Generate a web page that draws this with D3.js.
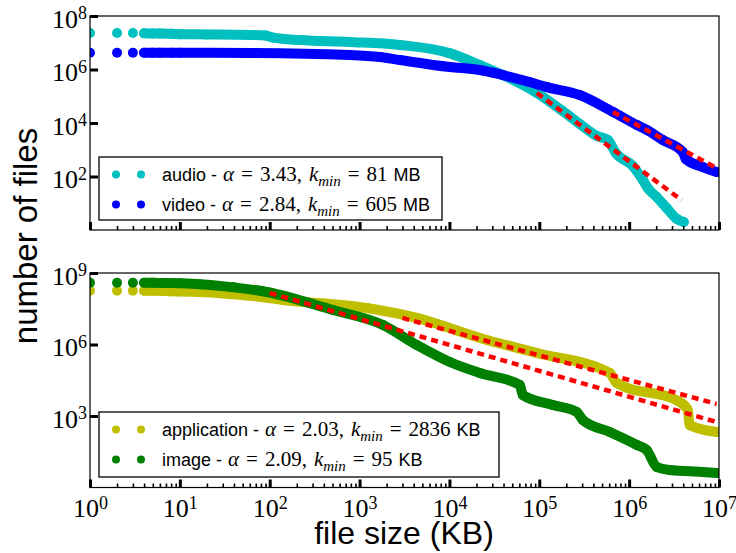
<!DOCTYPE html>
<html>
<head>
<meta charset="utf-8">
<script src="https://cdn.jsdelivr.net/npm/d3@7"></script>
<style>
  body { margin: 0; background: #fff; }
  svg { display: block; }
</style>
</head>
<body>
<script>
// CCDF points [file size KB, number of files]
var audio = [[1, 2.3e7], [2, 2.3e7], [3, 2.3e7], [4, 2.25e7], [5, 2.2e7], [6, 2.2e7], [8, 2.15e7], [10, 2.1e7],
  [20, 2.05e7], [60, 1.95e7], [90, 1.85e7], [110, 1.55e7], [217, 1.26e7], [780, 1.07e7], [2800, 8.3e6],
  [1.0e4, 4.1e6], [2.18e4, 1.47e6], [3.93e4, 6.2e5], [9.4e4, 1.32e5], [1.82e5, 2.8e4], [2.82e5, 9.2e3],
  [4.36e5, 3.3e3], [5.8e5, 2.3e3], [7.1e5, 757], [1.1e6, 247], [1.42e6, 74], [1.61e6, 37], [2.03e6, 17],
  [2.62e6, 6.6], [3.39e6, 2.6], [4.05e6, 2.0]];
var video = [[1, 4.25e6], [2, 4.25e6], [3, 4.25e6], [4, 4.24e6], [5, 4.23e6], [6, 4.22e6], [8, 4.2e6], [10, 4.2e6],
  [60, 4.14e6], [780, 3.48e6], [1.68e3, 2.93e6], [2.81e3, 2.26e6], [1.01e4, 1.24e6], [2.18e4, 9.6e5],
  [3.93e4, 6.2e5], [7.8e4, 3.4e5], [1.21e5, 2.2e5], [2.82e5, 1.11e5], [6.6e5, 2.6e4], [1.22e6, 8.4e3],
  [1.57e6, 5.5e3], [2.37e6, 2.3e3], [3.95e6, 824], [4.27e6, 451], [6.6e6, 226], [9.4e6, 147]];
var application = [[1, 1.82e8], [2, 1.82e8], [3, 1.81e8], [4, 1.8e8], [5, 1.8e8], [6, 1.78e8], [8, 1.7e8], [10, 1.68e8],
  [16.7, 1.6e8], [60, 1.1e8], [140, 7.4e7], [1.2e3, 3.4e7], [4.34e3, 1.3e7], [2.18e4, 1.88e6], [9.4e4, 4.4e5],
  [6.08e5, 6.4e4], [7.3e5, 2.4e4], [3.65e6, 3.9e3], [4.49e6, 1.79e3], [4.72e6, 420], [9.4e6, 213]];
var image = [[1, 3.93e8], [2, 3.93e8], [3, 3.92e8], [4, 3.9e8], [5, 3.88e8], [6, 3.85e8], [8, 3.8e8], [10, 3.7e8],
  [16.7, 3.4e8], [40, 2.5e8], [93, 1.6e8], [505, 2.8e7], [1.82e3, 6.6e6], [4.34e3, 9.5e5], [1.01e4, 1.85e5],
  [2.18e4, 6.4e4], [6.07e4, 2.0e4], [6.55e4, 7.6e3], [1.41e5, 2.9e3], [2.61e5, 1.47e3], [3.05e5, 680],
  [6.08e5, 213], [1.22e6, 61], [1.57e6, 37], [2.03e6, 7.2], [2.83e6, 5.4], [6.6e6, 4.5], [9.4e6, 4.1]];

// power-law fits (segment ends)
var audioFit = [[9.4e4, 1.32e5], [3.85e6, 13]];
var videoFit = [[6.6e5, 2.6e4], [8.96e6, 226]];
var applicationFit = [[3.0e3, 1.3e7], [9.4e6, 3.2e3]];
var imageFit = [[100, 1.45e8], [9.4e6, 560]];

// legend texts: [name, alpha, kmin, unit]
var topLegend = [["audio", "3.43", "81", "MB"], ["video", "2.84", "605", "MB"]];
var botLegend = [["application", "2.03", "2836", "KB"], ["image", "2.09", "95", "KB"]];

var xMajor = [1, 10, 100, 1e3, 1e4, 1e5, 1e6, 1e7];
var topYTicks = [1e2, 1e4, 1e6, 1e8];
var botYTicks = [1e3, 1e6, 1e9];

var W = 736, H = 553;
var serif = "'Liberation Serif', 'DejaVu Serif', serif";
var sans = "'Liberation Sans', Arial, sans-serif";

var svg = d3.select("body").append("svg").attr("width", W).attr("height", H);

var x = d3.scaleLog().domain([1, 1e7]).range([90, 719]);

var xMinor = [];
xMajor.slice(0, -1).forEach(function(d) { for (var k = 2; k < 10; k++) xMinor.push(d * k); });

function supLabel(sel, anchor) {
  sel.each(function(d) {
    var t = d3.select(this);
    var e = Math.round(Math.log10(d));
    t.text(null).attr("font-family", serif).attr("font-size", 26).attr("fill", "#000")
      .attr("text-anchor", anchor);
    t.append("tspan").text("10");
    t.append("tspan").attr("dy", "-0.45em").attr("font-size", 18).text(e);
  });
}

function panel(id, y, top, bottom, series, colors, fits, yTicks, showX) {
  var g = svg.append("g");
  g.append("clipPath").attr("id", id)
    .append("rect").attr("x", 90).attr("y", top).attr("width", 629).attr("height", bottom - top);

  var plot = g.append("g").attr("clip-path", "url(#" + id + ")");
  var line = d3.line().x(function(d) { return x(d[0]); }).y(function(d) { return y(d[1]); });
  var band = d3.line().x(function(d) { return x(d[0]); }).y(function(d) { return y(d[1]); })
    .curve(d3.curveMonotoneX);

  series.forEach(function(s, i) {
    plot.append("path")
      .datum(s.filter(function(d) { return d[0] >= 4; }))
      .attr("d", band)
      .attr("fill", "none")
      .attr("stroke", colors[i])
      .attr("stroke-width", 10)
      .attr("stroke-linecap", "round")
      .attr("stroke-linejoin", "round");
    plot.selectAll(null).data(s).enter().append("circle")
      .attr("cx", function(d) { return x(d[0]); })
      .attr("cy", function(d) { return y(d[1]); })
      .attr("r", 5)
      .attr("fill", colors[i]);
  });

  fits.forEach(function(f) {
    plot.append("path").datum(f).attr("d", line)
      .attr("fill", "none").attr("stroke", "#ff0000")
      .attr("stroke-width", 4.5).attr("stroke-dasharray", "7,5");
  });

  // frame
  g.append("rect").attr("x", 90).attr("y", top).attr("width", 629).attr("height", bottom - top)
    .attr("fill", "none").attr("stroke", "#000").attr("stroke-width", 1.2);

  // x ticks (inward)
  var xa = g.append("g").attr("transform", "translate(0," + bottom + ")")
    .call(d3.axisBottom(x).tickValues(xMinor).tickSize(-4).tickFormat(""));
  xa.selectAll("line").attr("stroke-width", 1.6);
  var xb = g.append("g").attr("transform", "translate(0," + bottom + ")")
    .call(d3.axisBottom(x).tickValues(xMajor).tickSize(-8));
  xb.selectAll("line").attr("stroke-width", 3);
  if (showX) {
    xb.selectAll("text").attr("y", 517 - bottom).attr("dy", null).call(supLabel, "middle");
  } else {
    xb.selectAll("text").remove();
  }

  var ya = g.append("g").attr("transform", "translate(90,0)")
    .call(d3.axisLeft(y).tickValues(yTicks).tickSize(-8).tickPadding(3));
  ya.selectAll("line").attr("stroke-width", 3);
  ya.selectAll("text").attr("dy", 11).call(supLabel, "end");

  svg.selectAll(".domain").remove();
  return g;
}

function legend(x0, y0, w, h, rows, colors) {
  var g = svg.append("g");
  g.append("rect").attr("x", x0).attr("y", y0).attr("width", w).attr("height", h)
    .attr("fill", "#fff").attr("stroke", "#000").attr("stroke-width", 1.3);
  var rowY = [y0 + 17.5, y0 + 47.5];
  rows.forEach(function(r, i) {
    [116, 141].forEach(function(mx) {
      g.append("circle").attr("cx", mx).attr("cy", rowY[i]).attr("r", 4).attr("fill", colors[i]);
    });
    var t = g.append("text").attr("x", 162).attr("y", rowY[i] + 6.5)
      .attr("font-family", sans).attr("font-size", 18).attr("fill", "#000");
    function math(txt, italic, dx, size, dy) {
      return t.append("tspan").attr("font-family", serif).attr("font-size", size || 21)
        .attr("font-style", italic ? "italic" : "normal").attr("dx", dx).attr("dy", dy || 0).text(txt);
    }
    t.append("tspan").text(r[0] + " -");
    math("\u03b1", true, 6);
    math("=", false, 7);
    math(r[1] + ",", false, 7);
    math("k", true, 7);
    math("min", true, 0, 15, 5);
    math("=", false, 7, 21, -5);
    math(r[2], false, 7);
    t.append("tspan").attr("dx", 6).text(r[3]);
  });
}

var yTop = d3.scaleLog().domain([1, 1e8]).range([230, 16]);
var yBot = d3.scaleLog().domain([1, 1e9]).range([487.5, 273]);

panel("clipTop", yTop, 16, 230, [audio, video], ["#00bfbf", "#0000ff"], [audioFit, videoFit], topYTicks, false);
panel("clipBot", yBot, 273, 487.5, [application, image], ["#bfbf00", "#008000"], [applicationFit, imageFit], botYTicks, true);

legend(99, 157, 343, 63, topLegend, ["#00bfbf", "#0000ff"]);
legend(99, 412, 400, 65, botLegend, ["#bfbf00", "#008000"]);

svg.append("text")
  .attr("transform", "translate(37,236) rotate(-90)")
  .attr("text-anchor", "middle")
  .attr("font-family", sans).attr("font-size", 33)
  .text("number of files");

svg.append("text")
  .attr("x", 404).attr("y", 544)
  .attr("text-anchor", "middle")
  .attr("font-family", sans).attr("font-size", 32)
  .text("file size (KB)");
</script>
</body>
</html>
